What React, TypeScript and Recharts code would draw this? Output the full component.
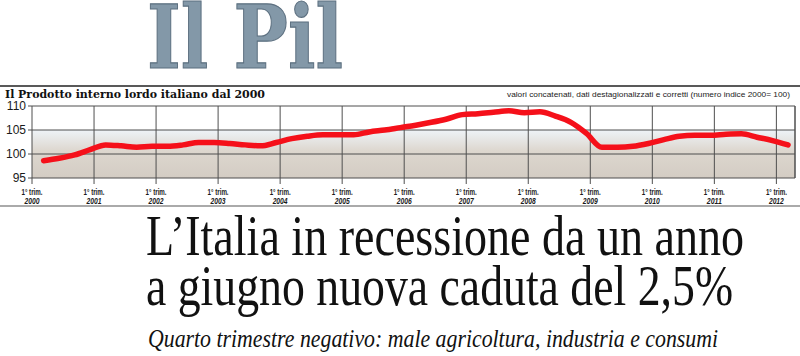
import { LineChart, Line, XAxis, YAxis, CartesianGrid, ReferenceLine } from 'recharts';

// GDP index (2000 = 100), quarterly, 1° trim. 2000 -> 1° trim. 2012
const GDP_INDEX = [
  98.6, 99.1, 99.8, 100.9,
  101.9, 101.7, 101.4, 101.6,
  101.6, 101.9, 102.4, 102.4,
  102.2, 101.9, 101.7, 102.4,
  103.2, 103.7, 104.0, 104.0,
  104.0, 104.6, 105.0, 105.5,
  106.0, 106.6, 107.3, 108.2,
  108.4, 108.7, 109.0, 108.6,
  108.8, 107.9, 106.6, 104.3,
  101.4, 101.4, 101.6, 102.2,
  103.0, 103.7, 103.9, 103.9,
  104.1, 104.2, 103.5, 102.8,
  101.9,
];

const YEARS = ['2000', '2001', '2002', '2003', '2004', '2005', '2006', '2007', '2008', '2009', '2010', '2011', '2012'];
const Y_TICKS = [95, 100, 105, 110];
const QUARTER_LABEL = '1° trim.';

const TITLE = 'Il Prodotto interno lordo italiano dal 2000';
const NOTE = 'valori concatenati, dati destagionalizzati e corretti (numero indice 2000= 100)';
const HEAD_1 = 'L’Italia in recessione da un anno';
const HEAD_2 = 'a giugno nuova caduta del 2,5%';
const SUBHEAD = 'Quarto trimestre negativo: male agricoltura, industria e consumi';

const data = GDP_INDEX.map((v, i) => ({ q: i + 0.75, v }));
const xTicks = YEARS.map((_, i) => i * 4);
const X_MAX = 49.2;

const GRID = '#4f4f4f';
const SANS = "'Liberation Sans', Arial, sans-serif";
const SERIF = "'Liberation Serif', 'Times New Roman', serif";
const SLAB = "'DejaVu Serif', serif";

function YearTick(props: any) {
  const { x, y, payload } = props;
  const year = YEARS[Math.round(payload.value / 4)];
  return (
    <g>
      <text x={x} y={y + 9.3} textAnchor="middle" fontSize={8.5} fontWeight="bold" fill="#1a1a1a"
        fontFamily={SANS} textLength={21} lengthAdjust="spacingAndGlyphs">
        {QUARTER_LABEL}
      </text>
      <text x={x} y={y + 17.8} textAnchor="middle" fontSize={8.5} fontStyle="italic" fontWeight="bold" fill="#1a1a1a"
        fontFamily={SANS} textLength={15} lengthAdjust="spacingAndGlyphs">
        {year}
      </text>
    </g>
  );
}

export default function App() {
  return (
    <div style={{ position: 'absolute', top: 0, left: 0, width: 800, height: 356, background: '#fff', overflow: 'hidden' }}>
      <LineChart width={800} height={215} data={data} margin={{ top: 106, right: 5, bottom: 7, left: 0 }}>
        <defs>
          <linearGradient id="pilBg" x1="0" y1="0" x2="0" y2="1">
            <stop offset="0" stopColor="#ffffff" />
            <stop offset="0.333" stopColor="#ffffff" />
            <stop offset="0.336" stopColor="#eef3f7" />
            <stop offset="0.62" stopColor="#ddd7cf" />
            <stop offset="1" stopColor="#d3ccc3" />
          </linearGradient>
        </defs>
        <CartesianGrid stroke={GRID} strokeWidth={1} fill="url(#pilBg)" fillOpacity={1} />
        <XAxis
          type="number"
          dataKey="q"
          domain={[0, X_MAX]}
          ticks={xTicks}
          height={30}
          axisLine={false}
          tickLine={{ stroke: GRID }}
          tickSize={6}
          tick={<YearTick />}
          interval={0}
        />
        <YAxis
          domain={[95, 110]}
          ticks={Y_TICKS}
          width={32}
          axisLine={false}
          tickLine={{ stroke: GRID }}
          tickSize={4}
          tickMargin={2}
          tick={{ fontSize: 12, fill: '#1a1a1a', fontFamily: SANS }}
          interval={0}
        />
        <ReferenceLine x={X_MAX} stroke={GRID} strokeWidth={1} />
        <Line
          type="monotone"
          dataKey="v"
          stroke="#f5101a"
          strokeWidth={5.5}
          strokeLinecap="round"
          strokeLinejoin="round"
          dot={false}
          isAnimationActive={false}
        />
      </LineChart>

      <svg width={800} height={356} style={{ position: 'absolute', top: 0, left: 0, pointerEvents: 'none' }}>
        <text x={147} y={68} fontFamily={SLAB} fontWeight="bold" fontSize={88}
          fill="#8398a8" stroke="#5d7080" strokeWidth={1.2} textLength={196} lengthAdjust="spacingAndGlyphs">
          Il Pil
        </text>
        <line x1={0} y1={86} x2={800} y2={86} stroke="#222" strokeWidth={1.5} />
        <text x={5} y={98} fontFamily={SLAB} fontWeight="bold" fontSize={11.5} fill="#111"
          textLength={260} lengthAdjust="spacingAndGlyphs">
          {TITLE}
        </text>
        <text x={790} y={97} textAnchor="end" fontFamily={SANS} fontSize={8} fill="#222"
          textLength={283} lengthAdjust="spacingAndGlyphs">
          {NOTE}
        </text>
        <line x1={0} y1={206} x2={800} y2={206} stroke="#aaa" strokeWidth={2} />
        <text x={146} y={255} fontFamily={SERIF} fontSize={56} fill="#111"
          textLength={598} lengthAdjust="spacingAndGlyphs">
          {HEAD_1}
        </text>
        <text x={146} y={305} fontFamily={SERIF} fontSize={56} fill="#111"
          textLength={587} lengthAdjust="spacingAndGlyphs">
          {HEAD_2}
        </text>
        <text x={148} y={347} fontFamily={SERIF} fontStyle="italic" fontSize={25} fill="#111"
          textLength={570} lengthAdjust="spacingAndGlyphs">
          {SUBHEAD}
        </text>
      </svg>
    </div>
  );
}
